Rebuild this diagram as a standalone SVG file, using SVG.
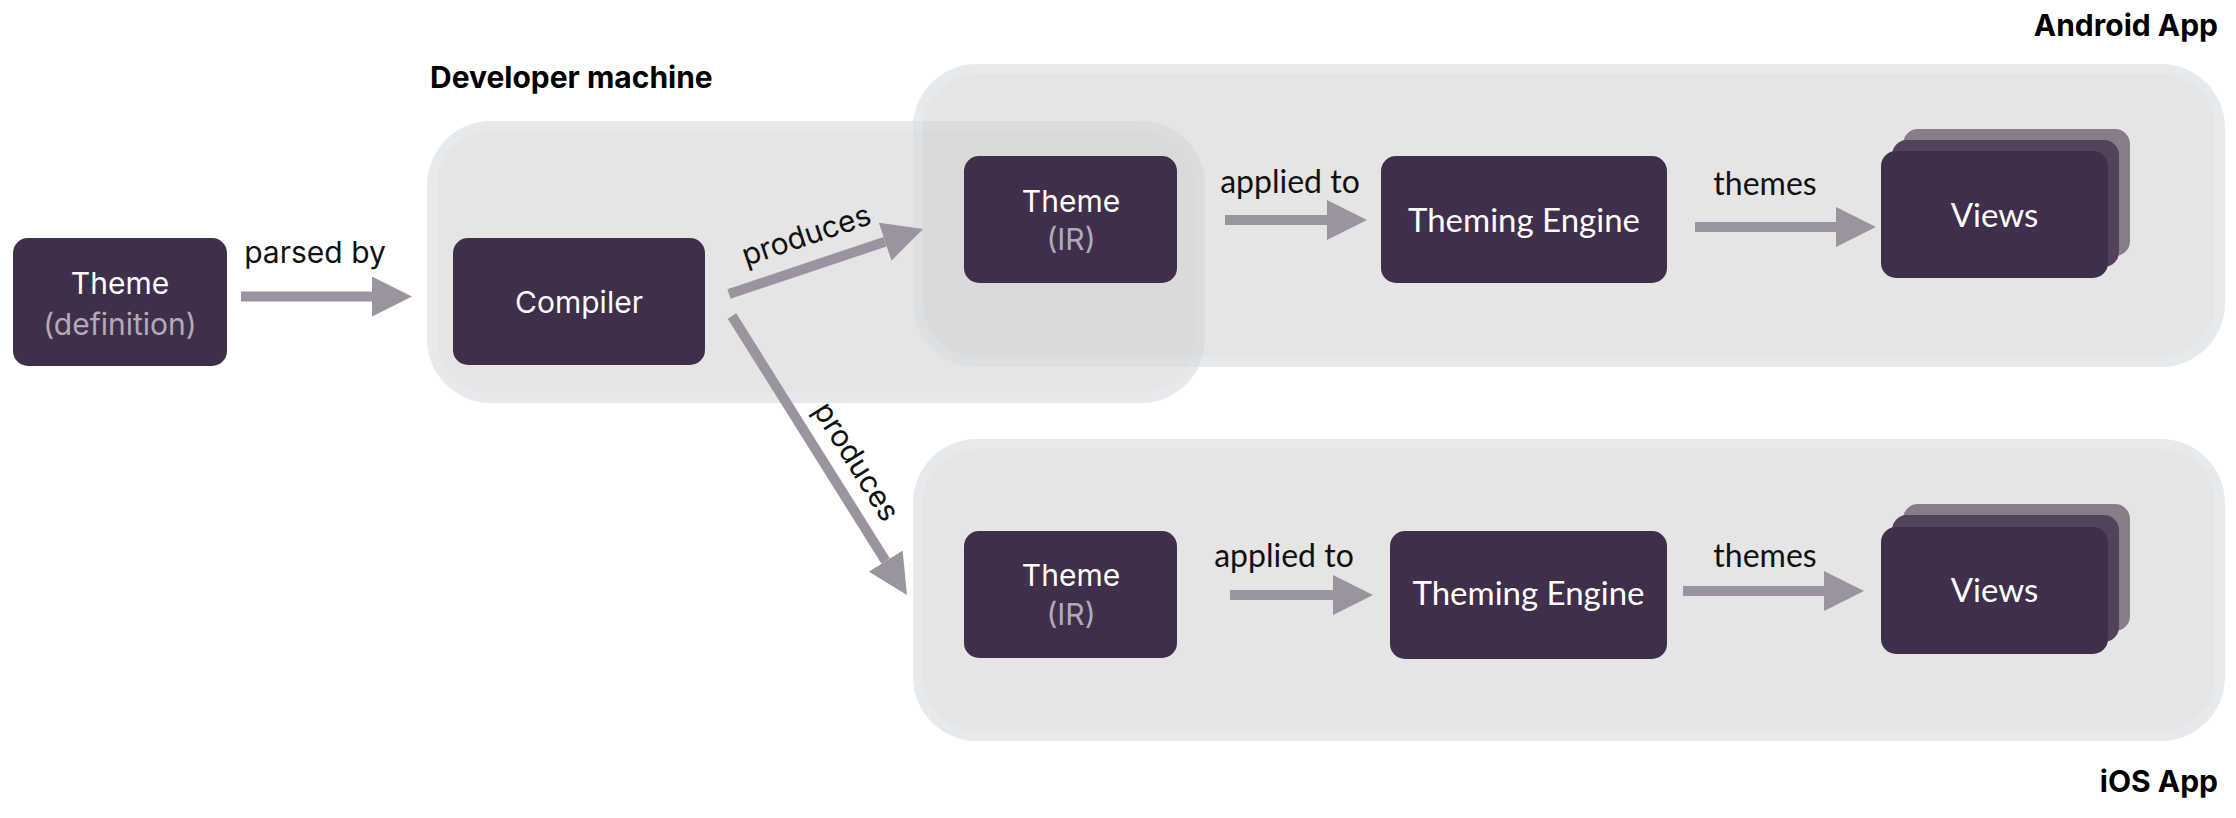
<svg xmlns="http://www.w3.org/2000/svg" width="2236" height="818" viewBox="0 0 2236 818">
<style>
.cont{opacity:0.6}
.co{fill:#d8dde2}
.ci{fill:#d4d4d4}
.hdr{font-family:Inter,'Liberation Sans',sans-serif;font-weight:700;font-size:30px;fill:#000}
.box{fill:#3f2f4a}
.mid{fill:#52435a}
.back{fill:#877d89}
.t1{font-family:Inter,'Liberation Sans',sans-serif;font-size:30px;fill:#ffffff;text-anchor:middle}
.t2{font-family:Inter,'Liberation Sans',sans-serif;font-size:30px;fill:#b3aab8;text-anchor:middle}
.t3{font-family:Lato,'Liberation Sans',sans-serif;font-size:33px;fill:#ffffff;text-anchor:middle}
.lbl{font-family:Inter,'Liberation Sans',sans-serif;font-size:30px;fill:#111111;text-anchor:middle}
.lbl2{font-family:Lato,'Liberation Sans',sans-serif;font-size:32px;fill:#111111;text-anchor:middle}
.shaft{stroke:#9b939f;stroke-width:10;fill:none;marker-end:url(#head)}
</style>
<defs>
<marker id="head" markerUnits="userSpaceOnUse" markerWidth="40" markerHeight="40" viewBox="0 0 40 40" refX="0" refY="20" orient="auto">
<path d="M0,0 L40,20 L0,40 z" fill="#9b939f"/>
</marker>
</defs>
<rect width="2236" height="818" fill="#ffffff"/>

<g id="developer-machine">
<g class="cont">
<rect class="co" x="427" y="121" width="778" height="282" rx="64"/>
<rect class="ci" x="437" y="131" width="758" height="262" rx="54"/>
</g>
<text class="hdr" x="430" y="88">Developer machine</text>
</g>
<g id="android-app">
<g class="cont">
<rect class="co" x="913" y="64" width="1312" height="303" rx="64"/>
<rect class="ci" x="923" y="74" width="1292" height="283" rx="54"/>
</g>
<text class="hdr" x="2218" y="36" text-anchor="end">Android App</text>
</g>
<g id="ios-app">
<g class="cont">
<rect class="co" x="913" y="439" width="1312" height="302" rx="64"/>
<rect class="ci" x="923" y="449" width="1292" height="282" rx="54"/>
</g>
<text class="hdr" x="2218" y="792" text-anchor="end">iOS App</text>
</g>

<g id="connectors">
<line class="shaft" x1="241" y1="296.5" x2="372" y2="296.5"/>
<text class="lbl" x="315" y="263">parsed by</text>
<line class="shaft" x1="729" y1="294" x2="885.1" y2="241.7"/>
<text class="lbl" x="809.5" y="244.8" transform="rotate(-18.5 809.5 244.8)">produces</text>
<line class="shaft" x1="732" y1="316" x2="885.7" y2="561.1"/>
<text class="lbl" x="848" y="467" transform="rotate(57.9 848 467)">produces</text>
<line class="shaft" x1="1225" y1="220" x2="1327" y2="220"/>
<text class="lbl2" x="1290" y="193">applied to</text>
<line class="shaft" x1="1695" y1="227" x2="1836" y2="227"/>
<text class="lbl2" x="1765" y="195">themes</text>
<line class="shaft" x1="1230" y1="595" x2="1333" y2="595"/>
<text class="lbl2" x="1284" y="567">applied to</text>
<line class="shaft" x1="1683" y1="591" x2="1824" y2="591"/>
<text class="lbl2" x="1765" y="567">themes</text>
</g>

<g id="theme-definition">
<rect class="box" x="13" y="238" width="214" height="128" rx="15"/>
<text class="t1" x="120" y="294">Theme</text>
<text class="t2" x="120" y="335">(definition)</text>
</g>
<g id="compiler">
<rect class="box" x="453" y="238" width="252" height="127" rx="15"/>
<text class="t1" x="579" y="313">Compiler</text>
</g>
<g id="android-theme-ir">
<rect class="box" x="964" y="156" width="213" height="127" rx="15"/>
<text class="t1" x="1071" y="212">Theme</text>
<text class="t2" x="1071" y="250">(IR)</text>
</g>
<g id="android-theming-engine">
<rect class="box" x="1381" y="156" width="286" height="127" rx="15"/>
<text class="t3" x="1524" y="232">Theming Engine</text>
</g>
<g id="android-views">
<rect class="back" x="1903" y="129" width="227" height="127" rx="15"/>
<rect class="mid" x="1892" y="140" width="227" height="127" rx="15"/>
<rect class="box" x="1881" y="151" width="227" height="127" rx="15"/>
<text class="t3" x="1994.5" y="227">Views</text>
</g>
<g id="ios-theme-ir">
<rect class="box" x="964" y="531" width="213" height="127" rx="15"/>
<text class="t1" x="1071" y="586">Theme</text>
<text class="t2" x="1071" y="625">(IR)</text>
</g>
<g id="ios-theming-engine">
<rect class="box" x="1390" y="531" width="277" height="128" rx="15"/>
<text class="t3" x="1528.5" y="605">Theming Engine</text>
</g>
<g id="ios-views">
<rect class="back" x="1903" y="504" width="227" height="127" rx="15"/>
<rect class="mid" x="1892" y="515" width="227" height="127" rx="15"/>
<rect class="box" x="1881" y="527" width="227" height="127" rx="15"/>
<text class="t3" x="1994.5" y="602">Views</text>
</g>
</svg>
